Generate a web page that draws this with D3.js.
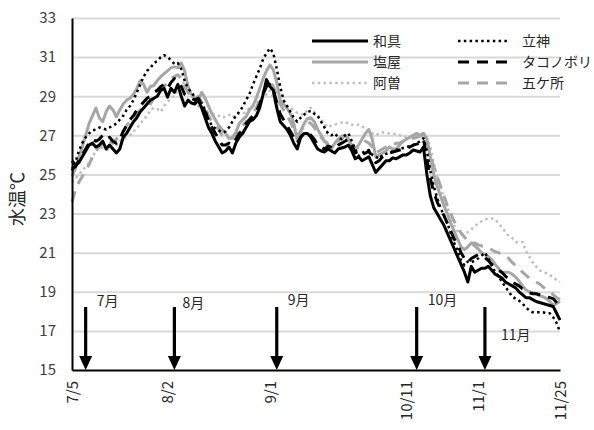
<!DOCTYPE html>
<html>
<head>
<meta charset="utf-8">
<script src="https://cdn.jsdelivr.net/npm/d3@7"></script>
<style>
  html, body { margin: 0; padding: 0; background: #fff; }
  svg { display: block; font-family: "Noto Sans CJK JP", "Noto Sans", sans-serif; }
</style>
</head>
<body>
<svg id="chart" width="594" height="430"></svg>
<script>
// Daily water temperature (°C) from 7/5 to 11/25, one value per day
const startDay = "2019-07-05";

const wagu = [
  25.7,25.5,25.6,25.9,26.2,26.5,26.6,26.4,26.5,26.7,
  26.3,26.5,26.3,26.1,26.3,26.9,27.1,27.4,27.7,27.9,
  28.2,28.4,28.6,28.8,28.9,29.0,29.3,29.4,28.95,29.4,
  29.2,29.6,29.0,28.5,28.8,28.65,28.6,28.8,28.4,27.9,
  27.4,27.1,26.7,26.4,26.1,26.2,26.4,26.1,26.6,26.9,
  27.1,27.4,27.7,27.8,28.0,28.4,29.1,29.85,29.5,29.3,
  28.4,27.7,27.5,27.3,27.0,26.6,26.3,26.9,27.1,27.1,
  26.9,26.6,26.3,26.2,26.15,26.3,26.2,26.1,26.3,26.35,
  26.4,26.5,26.2,25.8,25.9,25.7,25.8,25.9,25.5,25.1,
  25.3,25.5,25.7,25.7,25.85,25.8,25.9,26.0,26.0,26.1,
  26.25,26.2,26.15,26.4,25.0,23.9,23.3,23.0,22.7,22.4,
  22.0,21.6,21.2,20.8,20.4,20.0,19.5,20.3,20.0,20.1,
  20.2,20.2,20.3,20.1,19.9,19.8,19.7,19.5,19.4,19.3,
  19.2,19.0,18.85,18.7,18.7,18.6,18.5,18.45,18.4,18.35,
  18.3,18.25,17.9,17.55
];

const shioya = [
  24.9,25.3,25.9,26.4,27.0,27.6,28.0,28.4,27.9,27.7,
  28.2,28.5,28.3,27.95,28.3,28.6,28.8,28.9,29.1,29.4,
  29.8,29.6,29.2,29.5,29.55,29.8,30.0,30.15,30.3,30.45,
  30.5,30.45,30.7,30.3,29.5,29.1,28.9,28.8,29.2,28.9,
  28.5,28.1,27.8,27.5,27.3,27.1,26.85,26.85,27.15,27.6,
  27.8,27.95,28.3,28.5,28.9,29.4,29.9,30.3,30.6,30.35,
  29.7,28.8,28.6,28.4,28.1,27.6,26.75,27.2,27.6,27.85,
  27.9,27.7,27.3,27.0,26.7,26.5,26.3,26.6,26.8,26.95,
  27.0,26.8,26.5,26.3,26.5,26.8,27.1,27.3,26.8,25.9,
  26.0,26.1,26.2,26.4,26.3,26.3,26.5,26.7,26.8,26.9,
  27.0,27.1,27.0,27.1,26.8,25.9,25.0,24.4,23.9,23.4,
  23.0,22.5,22.1,21.7,21.3,21.15,21.3,21.5,21.35,21.2,
  21.0,20.9,20.8,20.65,20.4,20.2,19.95,20.0,20.0,19.9,
  19.75,19.55,19.3,19.1,19.0,18.95,18.9,18.8,18.75,18.65,
  18.5,18.3,18.4,18.5
];

const aso = [
  24.6,24.8,25.0,25.2,25.4,25.6,25.9,26.2,26.4,26.35,
  26.3,26.2,26.4,26.5,26.7,26.8,26.9,27.0,27.2,27.35,
  27.6,27.8,28.0,28.3,28.4,28.35,28.2,28.5,28.7,28.9,
  29.05,29.3,29.6,29.7,29.3,29.0,28.8,28.5,28.3,28.2,
  28.15,28.1,28.05,28.0,27.9,27.95,28.05,27.9,28.05,28.1,
  28.1,28.2,28.4,28.5,28.6,28.8,28.95,29.1,29.3,28.9,
  28.5,28.45,28.6,28.5,28.4,28.3,28.15,28.1,28.05,28.3,
  28.4,28.2,28.0,27.8,27.6,27.4,27.5,27.55,27.6,27.65,
  27.7,27.6,27.55,27.5,27.55,27.45,27.35,27.2,27.1,27.0,
  27.1,27.15,27.15,27.1,27.1,27.05,27.0,26.95,26.9,26.95,
  27.0,27.05,27.1,27.0,26.9,26.4,25.6,24.9,24.3,23.8,
  23.3,22.9,22.4,22.1,21.95,22.0,22.05,22.2,22.35,22.5,
  22.6,22.7,22.75,22.75,22.7,22.5,22.3,22.05,21.85,21.75,
  21.55,21.5,21.55,21.1,20.8,20.5,20.3,20.1,20.0,19.95,
  19.85,19.75,19.6,19.5
];

const tategami = [
  25.2,25.6,26.2,26.6,26.9,27.1,27.25,27.3,27.4,27.35,
  27.3,27.4,27.5,27.6,27.8,28.0,28.3,28.5,28.8,29.2,
  29.6,30.0,30.3,30.45,30.7,30.8,31.0,31.1,31.0,30.85,
  30.65,30.7,30.4,29.8,29.4,29.2,28.95,28.75,28.65,28.3,
  27.8,27.5,27.35,27.25,27.15,27.2,27.4,27.7,28.0,28.2,
  28.45,28.8,29.1,29.6,30.0,30.4,30.9,31.2,31.45,31.2,
  30.4,29.5,28.8,28.5,28.2,27.9,27.7,27.9,28.05,28.2,
  28.25,28.1,28.0,27.7,27.4,27.1,27.0,27.1,26.9,26.8,
  27.0,27.1,26.7,26.3,25.95,26.1,26.2,26.25,26.0,25.9,
  25.8,26.0,26.05,26.1,26.2,26.25,26.3,26.35,26.4,26.45,
  26.5,26.6,26.7,26.85,26.2,25.2,24.4,23.8,23.3,22.9,
  22.5,22.0,21.5,21.1,20.6,20.35,20.55,20.5,20.6,20.7,
  20.85,21.0,20.7,20.35,20.0,19.8,19.5,19.25,19.0,18.75,
  18.65,18.55,18.4,18.2,18.05,17.95,17.95,17.95,17.95,17.9,
  17.9,17.7,17.4,16.95
];

const takonobori = [
  25.3,25.4,25.7,26.0,26.3,26.6,26.8,26.7,26.8,27.0,
  26.8,26.9,26.7,26.6,26.8,27.2,27.5,27.8,28.0,28.3,
  28.5,28.7,28.9,29.0,29.2,29.3,29.5,29.6,29.4,29.7,
  29.9,29.8,29.5,29.1,29.0,28.9,28.8,28.9,28.6,28.2,
  27.8,27.4,27.1,26.8,26.5,26.5,26.6,26.5,26.8,27.1,
  27.3,27.6,27.8,28.0,28.2,28.6,29.1,29.5,29.6,29.3,
  28.7,28.1,27.8,27.5,27.2,26.9,26.6,26.9,27.1,27.2,
  27.0,26.8,26.5,26.4,26.3,26.45,26.4,26.3,26.5,26.6,
  26.7,26.8,26.5,26.1,26.2,26.0,26.1,26.2,25.9,25.6,
  25.7,25.9,26.0,26.1,26.15,26.2,26.25,26.3,26.35,26.4,
  26.5,26.55,26.6,26.8,25.8,24.8,24.1,23.6,23.2,22.9,
  22.5,22.1,21.7,21.4,21.0,20.7,20.5,20.7,20.8,20.9,
  20.8,20.75,20.6,20.4,20.25,20.1,20.0,19.8,19.65,19.5,
  19.4,19.3,19.15,19.05,18.95,18.9,18.9,18.85,18.8,18.75,
  18.7,18.65,18.45,18.2
];

const gokasho = [
  23.6,24.2,24.6,24.9,25.2,25.5,25.9,26.2,26.4,26.6,
  26.5,26.7,26.6,26.8,27.0,27.2,27.5,27.7,27.9,28.1,
  28.3,28.5,28.7,28.6,28.9,29.1,29.3,29.5,29.7,29.9,
  30.0,30.1,29.9,29.5,29.2,29.0,28.9,29.0,28.7,28.4,
  28.0,27.7,27.5,27.3,27.0,26.9,26.8,26.9,27.1,27.3,
  27.5,27.7,27.8,28.1,28.4,28.8,29.2,29.6,29.8,29.5,
  29.0,28.6,28.3,28.0,27.7,27.3,27.0,27.2,27.5,27.7,
  27.6,27.4,27.1,26.9,26.7,26.6,26.7,26.8,26.7,26.9,
  26.8,26.6,26.4,26.3,26.4,26.5,26.7,26.6,26.4,26.1,
  26.2,26.3,26.4,26.5,26.5,26.6,26.6,26.7,26.75,26.8,
  26.85,26.9,26.95,27.0,26.7,26.0,25.4,24.9,24.4,23.9,
  23.4,23.0,22.6,22.3,22.0,21.8,21.6,21.5,21.5,21.4,
  21.35,21.3,21.2,21.15,21.05,21.0,20.9,20.8,20.7,20.5,
  20.35,20.2,20.0,19.85,19.7,19.6,19.5,19.4,19.25,19.1,
  19.0,18.85,18.7,18.6
];

const seriesNames = ["和具", "塩屋", "阿曽", "立神", "タコノボリ", "五ケ所"];
const xTickLabels = ["7/5", "8/2", "9/1", "10/11", "11/1", "11/25"];
const yTicks = [15, 17, 19, 21, 23, 25, 27, 29, 31, 33];
const arrowDays = ["7/9", "8/4", "9/3", "10/14", "11/3"];
const monthLabels = ["7月", "8月", "9月", "10月", "11月"];
const yTitle = "水温℃";

// ---- layout ----
const svg = d3.select("#chart");
const plot = { left: 72, right: 560, top: 18, bottom: 370 };
const year = 2019;
const parseMD = s => { const [m, d] = s.split("/").map(Number); return new Date(year, m - 1, d); };
const t0 = d3.timeParse("%Y-%m-%d")(startDay);
const dates = wagu.map((_, i) => d3.timeDay.offset(t0, i));

const x = d3.scaleTime()
  .domain([dates[0], dates[dates.length - 1]])
  .range([plot.left, plot.right]);
const y = d3.scaleLinear().domain([15, 33]).range([plot.bottom, plot.top]);

// gridlines
svg.append("g")
  .attr("transform", `translate(${plot.left},0)`)
  .call(d3.axisLeft(y).tickValues(yTicks.filter(v => v > 15)).tickSize(-(plot.right - plot.left)).tickFormat(""))
  .call(g => g.select(".domain").remove())
  .call(g => g.selectAll("line").attr("stroke", "#d9d9d9").attr("stroke-width", 2));

// series styles
const styles = {
  "和具":       { color: "#000000", width: 3,   dash: null },
  "塩屋":       { color: "#a6a6a6", width: 3,   dash: null },
  "阿曽":       { color: "#bfbfbf", width: 2.5, dash: "2.5 3.3" },
  "立神":       { color: "#000000", width: 2.5, dash: "2.5 3.3" },
  "タコノボリ": { color: "#000000", width: 3,   dash: "11 8" },
  "五ケ所":     { color: "#a6a6a6", width: 3,   dash: "11 8" }
};
const valuesByName = {
  "和具": wagu, "塩屋": shioya, "阿曽": aso,
  "立神": tategami, "タコノボリ": takonobori, "五ケ所": gokasho
};

const line = d3.line()
  .x((d, i) => x(dates[i]))
  .y(d => y(d));

const drawOrder = ["阿曽", "五ケ所", "塩屋", "タコノボリ", "立神", "和具"];
svg.append("g").selectAll("path")
  .data(drawOrder)
  .join("path")
  .attr("d", n => line(valuesByName[n]))
  .attr("fill", "none")
  .attr("stroke", n => styles[n].color)
  .attr("stroke-width", n => styles[n].width)
  .attr("stroke-dasharray", n => styles[n].dash)
  .attr("stroke-linejoin", "round");

// y axis
svg.append("g")
  .attr("transform", `translate(${plot.left},0)`)
  .call(d3.axisLeft(y).tickValues(yTicks).tickSize(0).tickPadding(16))
  .call(g => g.select(".domain").attr("stroke", "#000").attr("stroke-width", 2))
  .call(g => g.selectAll("text")
    .attr("font-family", '"Noto Sans CJK JP", "Noto Sans", sans-serif')
    .attr("font-size", 15).attr("fill", "#404040"));

// x axis
svg.append("g")
  .attr("transform", `translate(0,${plot.bottom})`)
  .call(d3.axisBottom(x)
    .tickValues(xTickLabels.map(parseMD))
    .tickSize(0)
    .tickFormat(d => `${d.getMonth() + 1}/${d.getDate()}`))
  .call(g => g.select(".domain").attr("stroke", "#000").attr("stroke-width", 2))
  .call(g => g.selectAll("text")
    .attr("font-family", '"Noto Sans CJK JP", "Noto Sans", sans-serif')
    .attr("font-size", 15).attr("fill", "#262626")
    .attr("transform", "rotate(-90)")
    .attr("x", -11).attr("y", 0).attr("dy", "0.35em")
    .attr("text-anchor", "end"));

// y axis title
svg.append("text")
  .attr("transform", `translate(24,199) rotate(-90)`)
  .attr("text-anchor", "middle")
  .attr("font-size", 18)
  .attr("fill", "#262626")
  .text(yTitle);

// month arrows
const arrowTop = 307;
const arrows = svg.append("g");
arrowDays.forEach((s, i) => {
  const ax = x(parseMD(s));
  arrows.append("line")
    .attr("x1", ax).attr("x2", ax)
    .attr("y1", arrowTop).attr("y2", plot.bottom - 12)
    .attr("stroke", "#000").attr("stroke-width", 3.2);
  arrows.append("path")
    .attr("d", `M${ax - 6.5},${plot.bottom - 14}L${ax + 6.5},${plot.bottom - 14}L${ax},${plot.bottom}Z`)
    .attr("fill", "#000");
});
// month label placement (dx from arrow, baseline)
const monthPos = [[11, 306], [8, 308], [11, 305], [11, 305], [16, 340]];
monthLabels.forEach((m, i) => {
  svg.append("text")
    .attr("x", x(parseMD(arrowDays[i])) + monthPos[i][0])
    .attr("y", monthPos[i][1])
    .attr("font-size", 14)
    .attr("fill", "#262626")
    .text(m);
});

// legend: two columns of three entries
const legendCols = [
  { lineX: [312, 368], textX: 373 },
  { lineX: [458, 510], textX: 522 }
];
const legendRows = [41, 62, 83];
const legendLayout = [["和具", "塩屋", "阿曽"], ["立神", "タコノボリ", "五ケ所"]];
legendLayout.forEach((col, ci) => {
  col.forEach((name, ri) => {
    const st = styles[name];
    const ly = legendRows[ri];
    svg.append("line")
      .attr("x1", legendCols[ci].lineX[0]).attr("x2", legendCols[ci].lineX[1])
      .attr("y1", ly).attr("y2", ly)
      .attr("stroke", st.color).attr("stroke-width", st.width)
      .attr("stroke-dasharray", st.dash);
    svg.append("text")
      .attr("x", legendCols[ci].textX).attr("y", ly)
      .attr("dy", "0.35em")
      .attr("font-size", 14)
      .attr("fill", "#262626")
      .text(name);
  });
});
</script>
</body>
</html>
